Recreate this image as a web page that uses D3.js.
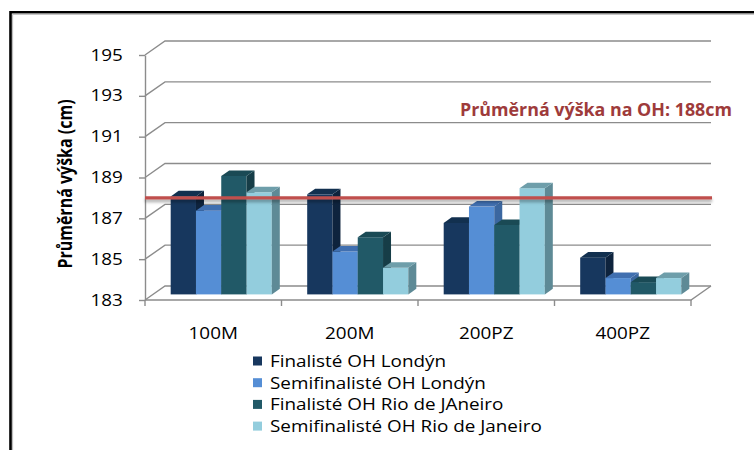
<!DOCTYPE html>
<html>
<head>
<meta charset="utf-8">
<script src="https://cdn.jsdelivr.net/npm/d3@7"></script>
<style>
  html, body { margin: 0; padding: 0; background: #fff; }
  svg { display: block; }
  text { font-family: "Open Sans", "Liberation Sans", sans-serif; }
</style>
</head>
<body>
<svg id="chart" width="754" height="450"></svg>
<script>
// ---- data ----
const categories = ["100M", "200M", "200PZ", "400PZ"];
const seriesNames = [
  "Finalisté OH Londýn",
  "Semifinalisté OH Londýn",
  "Finalisté OH Rio de JAneiro",
  "Semifinalisté OH Rio de Janeiro"
];
const finalistsLondon     = [187.8, 187.9, 186.5, 184.8];
const semifinalistsLondon = [187.1, 185.1, 187.3, 183.8];
const finalistsRio        = [188.8, 185.8, 186.4, 183.6];
const semifinalistsRio    = [188.0, 184.3, 188.2, 183.8];
const yTicks = [183, 185, 187, 189, 191, 193, 195];
const averageHeight = 188;
const averageLabel = "Průměrná výška na OH: 188cm";
const yTitle = "Průměrná výška (cm)";

const seriesValues = [finalistsLondon, semifinalistsLondon, finalistsRio, semifinalistsRio];

// ---- styling ----
const palette = [
  { front: "#17375E", side: "#0E233D", top: "#12304F" },
  { front: "#558ED5", side: "#3B67A0", top: "#406FB0" },
  { front: "#215967", side: "#163D47", top: "#1A4A55" },
  { front: "#93CDDD", side: "#5E8A96", top: "#6E9EAA" }
];
const gridColor = "#8C8C8C";
const textStretch = 1.18;     // horizontal widening applied to labels

// ---- layout ----
const plot = { left: 145, right: 691, top: 55, bottom: 300 };
const depth = { dx: 20, dy: -14 };          // oblique offset of the back wall
const barDepthStart = 0.4, barDepthSize = 0.4;

const svg = d3.select("#chart");

const y = d3.scaleLinear().domain([183, 195]).range([plot.bottom, plot.top]);
const x0 = d3.scaleBand().domain(categories).range([plot.left, plot.right]).padding(0);
const x1 = d3.scaleBand().domain(d3.range(seriesNames.length))
  .range([0, x0.bandwidth()]).paddingInner(0).paddingOuter(0.7);

// chart frame
svg.append("path")
  .attr("d", "M10.5,450 L10.5,12.2 L754,12.2")
  .attr("fill", "none").attr("stroke", "#000").attr("stroke-width", 2.6);
svg.append("path")
  .attr("d", "M12.6,450 L12.6,14.3 L754,14.3")
  .attr("fill", "none").attr("stroke", "#B8B8B8").attr("stroke-width", 1);

// back wall gridlines with their diagonal side-wall segments
const grid = svg.append("g").attr("fill", "none").attr("stroke", gridColor).attr("stroke-width", 1.4);
yTicks.forEach(t => {
  const yf = y(t);
  grid.append("path").attr("d",
    `M${plot.left},${yf} L${plot.left + depth.dx},${yf + depth.dy} L${plot.right + depth.dx},${yf + depth.dy}`);
});
// floor outline (right edge + front edge)
const yFloor = y(183);
grid.append("path").attr("d",
  `M${plot.left},${yFloor} L${plot.right},${yFloor} L${plot.right + depth.dx},${yFloor + depth.dy}`);

// value axis
const yAxis = svg.append("g")
  .attr("transform", `translate(${plot.left},0)`)
  .call(d3.axisLeft(y).tickValues(yTicks).tickSize(6).tickSizeOuter(0).tickPadding(12.8)
    .tickFormat(d3.format("d")));
yAxis.select(".domain").attr("stroke", gridColor).attr("stroke-width", 1.4);
yAxis.selectAll(".tick line").attr("stroke", gridColor).attr("stroke-width", 1.4);
yAxis.selectAll(".tick text")
  .attr("font-size", 16).attr("fill", "#000")
  .attr("transform", `scale(${textStretch},1)`);

// category axis: boundary ticks and centred labels
const boundaries = [plot.left].concat(categories.map(c => x0(c) + x0.bandwidth()));
svg.append("g").selectAll("line").data(boundaries).join("line")
  .attr("x1", d => d).attr("x2", d => d)
  .attr("y1", yFloor).attr("y2", yFloor + 6)
  .attr("stroke", gridColor).attr("stroke-width", 1.4);

const xAxis = svg.append("g")
  .attr("transform", `translate(0,${yFloor})`)
  .call(d3.axisBottom(x0).tickSize(0).tickPadding(0));
xAxis.select(".domain").remove();
xAxis.selectAll(".tick text")
  .attr("font-size", 16).attr("fill", "#000")
  .attr("dy", null).attr("y", 39)
  .attr("transform", `scale(${textStretch},1)`);

// 3D columns
const fx = depth.dx * barDepthStart, fy = depth.dy * barDepthStart;
const bx = depth.dx * barDepthSize, by = depth.dy * barDepthSize;
const bars = svg.append("g");
categories.forEach((c, ci) => {
  seriesValues.forEach((vals, si) => {
    const v = vals[ci];
    const w = x1.bandwidth();
    const x = x0(c) + x1(si) + fx;
    const yT = y(v) + fy;
    const yB = y(183) + fy;
    const col = palette[si];
    const g = bars.append("g");
    g.append("rect").attr("x", x).attr("y", yT).attr("width", w).attr("height", yB - yT)
      .attr("fill", col.front);
    g.append("path").attr("fill", col.side).attr("d",
      `M${x + w},${yT} L${x + w + bx},${yT + by} L${x + w + bx},${yB + by} L${x + w},${yB} Z`);
    g.append("path").attr("fill", col.top).attr("d",
      `M${x},${yT} L${x + w},${yT} L${x + w + bx},${yT + by} L${x + bx},${yT + by} Z`);
  });
});

// average height reference line with a soft shadow beneath
const yAvg = y(averageHeight);
const defs = svg.append("defs");
const shadow = defs.append("filter").attr("id", "lineShadow")
  .attr("filterUnits", "userSpaceOnUse")
  .attr("x", plot.left - 10).attr("y", yAvg - 10)
  .attr("width", plot.right - plot.left + depth.dx + 30).attr("height", 24);
shadow.append("feDropShadow").attr("dx", 0).attr("dy", 2.5).attr("stdDeviation", 1.6)
  .attr("flood-color", "#000").attr("flood-opacity", 0.35);
svg.append("line")
  .attr("x1", plot.left).attr("x2", plot.right + depth.dx + 1)
  .attr("y1", yAvg).attr("y2", yAvg)
  .attr("stroke", "#C0504D").attr("stroke-width", 3.2)
  .attr("filter", "url(#lineShadow)");

// annotation of the average
svg.append("g").attr("transform", `translate(460,116) scale(1.05,1)`)
  .append("text")
  .attr("font-size", 17).attr("font-weight", 700).attr("fill", "#9E3B3B")
  .text(averageLabel);

// value axis title
svg.append("g").attr("transform", `translate(72,184) rotate(-90) scale(1,1.17)`)
  .append("text")
  .attr("text-anchor", "middle")
  .attr("font-size", 16).attr("font-weight", 700).attr("fill", "#000")
  .text(yTitle);

// legend
const legend = svg.append("g").attr("transform", "translate(253,361)");
const rows = legend.selectAll("g").data(seriesNames).join("g")
  .attr("transform", (d, i) => `translate(0,${i * 21.7})`);
rows.append("rect").attr("x", 0).attr("y", -4.5).attr("width", 9).attr("height", 9)
  .attr("fill", (d, i) => palette[i].front);
rows.append("g").attr("transform", `translate(17,5.8) scale(${textStretch},1)`)
  .append("text").attr("font-size", 16).attr("fill", "#000").text(d => d);
</script>
</body>
</html>
